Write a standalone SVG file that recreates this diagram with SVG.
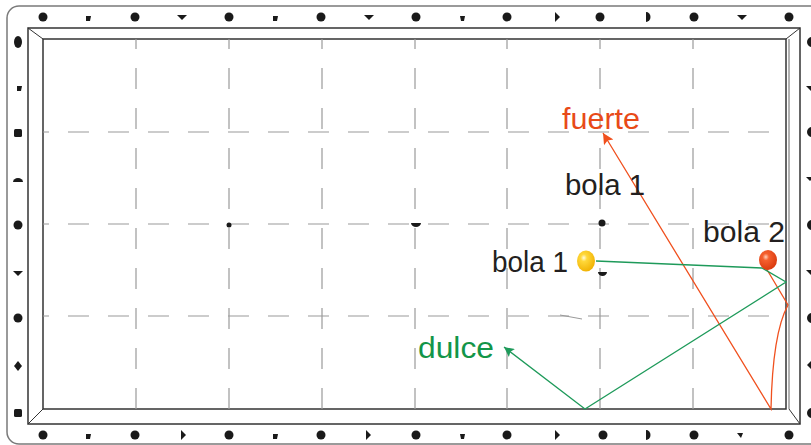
<svg xmlns="http://www.w3.org/2000/svg" width="811" height="445" viewBox="0 0 811 445">
<style>
.frame{fill:none;stroke:#7a7a7a;stroke-width:1.5}
.rail{fill:none;stroke:#333;stroke-width:1.5}
.bev{fill:none;stroke:#333;stroke-width:1}
.grid{fill:none;stroke:#9a9a9a;stroke-width:1.2;stroke-dasharray:21 19}
.mk{fill:#1a1a1a}
.lbl{font-family:"Liberation Sans",Arial,sans-serif;font-size:29px;fill:#231f20}
.red{fill:none;stroke:#f0501e;stroke-width:1.3}
.grn{fill:none;stroke:#1e9a5a;stroke-width:1.3}
</style>
<defs>
<marker id="ar" viewBox="0 0 10 10" refX="10" refY="5" markerWidth="13" markerHeight="11" markerUnits="userSpaceOnUse" orient="auto-start-reverse"><path d="M0,0 L10,5 L0,10 L2,5 z" fill="#f0501e"/></marker>
<marker id="ag" viewBox="0 0 10 10" refX="10" refY="5" markerWidth="12" markerHeight="10" markerUnits="userSpaceOnUse" orient="auto-start-reverse"><path d="M0,0 L10,5 L0,10 L2,5 z" fill="#1e9a5a"/></marker>
<radialGradient id="gy" cx="0.38" cy="0.35" r="0.7"><stop offset="0" stop-color="#fffbe0"/><stop offset="0.25" stop-color="#ffd83a"/><stop offset="1" stop-color="#f0b000"/></radialGradient>
<radialGradient id="gr" cx="0.38" cy="0.35" r="0.7"><stop offset="0" stop-color="#ffd0b8"/><stop offset="0.25" stop-color="#f5602e"/><stop offset="1" stop-color="#d8380c"/></radialGradient>
</defs>
<rect width="811" height="445" fill="#fff"/>
<g id="table">
<rect class="frame" x="7" y="6" width="830" height="438" rx="12"/>
<rect class="rail" x="28" y="28" width="772" height="396"/>
<rect class="rail" x="43" y="39" width="743" height="370"/>
<line x1="789" y1="39" x2="789" y2="409" stroke="#999" stroke-width="1.5"/>
<path class="bev" d="M28,28 L43,39 M800,28 L786,39 M28,424 L43,409 M800,424 L789,409"/>
<g id="grid">
<path class="grid" d="M136,409 V39 M229,409 V39 M322,409 V39 M415,409 V39 M507,409 V39 M600,409 V39 M693,409 V39"/>
<path class="grid" style="stroke-dashoffset:15" d="M43,132 H786 M43,224 H786 M43,316 H786"/>
<line x1="560" y1="315" x2="582" y2="319" stroke="#9a9a9a" stroke-width="1"/>
</g>
<g id="spots" class="mk">
<circle cx="229" cy="225" r="2.5"/>
<path d="M411,223 h10 a5,4 0 0 1 -10,0z"/>
<circle cx="602" cy="223" r="3.5"/>
<path d="M598,272 h9 a4.5,4 0 0 1 -9,0z"/>
</g>
<g id="markers" class="mk">
<circle cx="43" cy="17" r="4.5"/><path d="M86,16 h5 l-1,5 h-4z"/><circle cx="135" cy="17" r="4.5"/><path d="M177,15 h10 l-5,5z"/>
<circle cx="229" cy="17" r="4.5"/><path d="M273,16 h5 l-1,5 h-4z"/><circle cx="321" cy="17" r="4.5"/><path d="M364,15 h10 l-5,5z"/>
<circle cx="416" cy="17" r="4.5"/><path d="M460,16 h5 l-1,5 h-3z"/><circle cx="507" cy="17" r="4.5"/><path d="M555,12 l5,5 l-5,5z"/>
<circle cx="600" cy="17" r="4.5"/><path d="M646,12 a4.5,5 0 0 1 0,10z"/><circle cx="694" cy="17" r="4.5"/><path d="M737,15 h10 l-5,5z"/>
<circle cx="789" cy="17" r="4.5"/>
<circle cx="43" cy="435" r="4.5"/><path d="M86,434 h5 l-1,5 h-4z"/><circle cx="135" cy="435" r="4.5"/><path d="M181,430 l5,5 l-5,5z"/>
<circle cx="229" cy="435" r="4.5"/><path d="M273,434 h5 l-1,5 h-4z"/><circle cx="321" cy="435" r="4.5"/><path d="M366,430 l5,5 l-5,5z"/>
<circle cx="416" cy="435" r="4.5"/><path d="M460,434 h5 l-1,5 h-3z"/><circle cx="507" cy="435" r="4.5"/><path d="M555,430 l5,5 l-5,5z"/>
<circle cx="603" cy="435" r="4.5"/><path d="M646,430 a4.5,5 0 0 1 0,10z"/><circle cx="694" cy="435" r="4.5"/><path d="M737,433 h6 l-2,5z"/>
<circle cx="789" cy="435" r="4.5"/>
<ellipse cx="18" cy="42" rx="4" ry="6"/><path d="M17,86 h5 l-1,5 h-4z"/><rect x="14" y="129" width="8" height="8" rx="1.5"/><path d="M13,182 a5,4 0 0 1 10,0z"/>
<circle cx="18" cy="225" r="4.5"/><path d="M13,271 h10 l-5,5z"/><circle cx="18" cy="318" r="4.5"/><path d="M18,361 l4,5 l-4,5 l-4,-5z"/>
<rect x="14" y="409" width="8" height="8" rx="1.5"/>
<circle cx="812" cy="42" r="5"/><path d="M806,86 h10 l-5,5z"/><circle cx="812" cy="132" r="5"/><path d="M806,177 h8 l-4,4z"/>
<circle cx="812" cy="225" r="5"/><path d="M806,270 h10 l-5,5z"/><circle cx="812" cy="318" r="5"/><path d="M812,360 l-5,5 l5,5z"/>
<circle cx="812" cy="413" r="5"/>
</g>
</g>
<g id="connectors">
<path id="shot-red" class="red" marker-start="url(#ar)" d="M603,133 L771,409 C772,360 777,325 788,305 L766,268"/>
<path id="shot-green" class="grn" marker-start="url(#ag)" d="M504,347 L585,409 L786,282 L762,268 L596,261"/>
</g>
<g id="ball1">
<ellipse cx="586" cy="261" rx="9" ry="10.5" fill="url(#gy)"/>
<text class="lbl" x="492" y="272" textLength="76" lengthAdjust="spacingAndGlyphs">bola 1</text>
</g>
<g id="ball2">
<ellipse cx="768" cy="260" rx="9" ry="10" fill="url(#gr)"/>
<text class="lbl" x="703" y="242" textLength="82" lengthAdjust="spacingAndGlyphs">bola 2</text>
</g>
<g id="label-bola1-top">
<text class="lbl" x="565" y="195" textLength="80" lengthAdjust="spacingAndGlyphs">bola 1</text>
</g>
<g id="label-fuerte">
<text class="lbl" x="562" y="129" textLength="78" lengthAdjust="spacingAndGlyphs" style="fill:#e84a18">fuerte</text>
</g>
<g id="label-dulce">
<text class="lbl" x="418" y="358" textLength="76" lengthAdjust="spacingAndGlyphs" style="fill:#139548">dulce</text>
</g>
</svg>
